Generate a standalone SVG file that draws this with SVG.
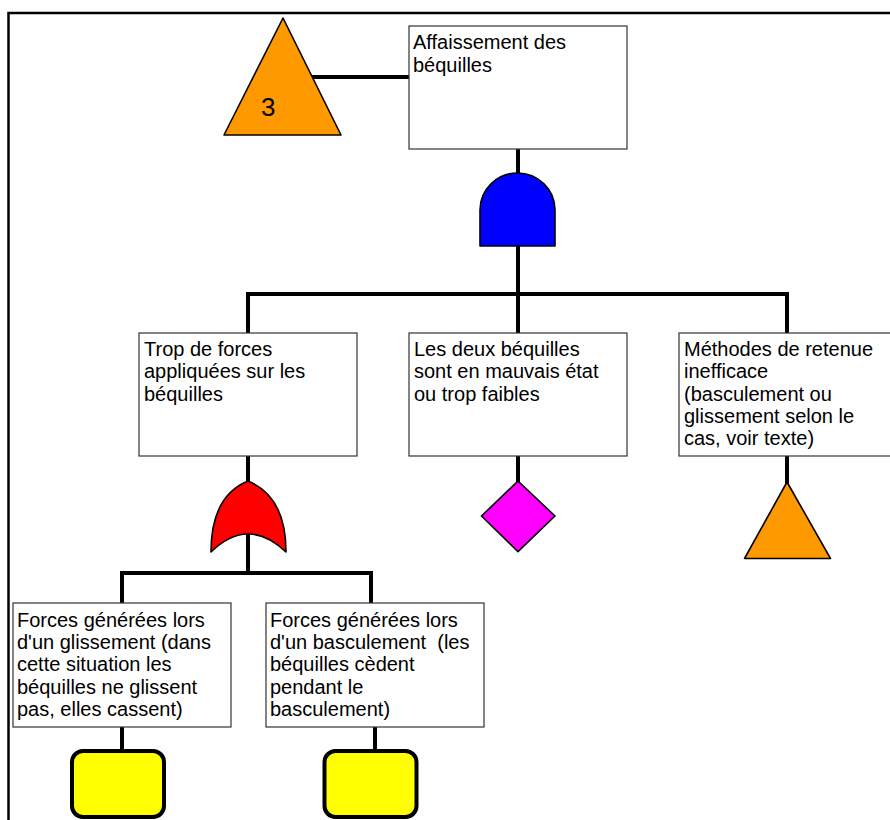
<svg xmlns="http://www.w3.org/2000/svg" width="890" height="820" viewBox="0 0 890 820">
  <style>
    .box { fill: #ffffff; stroke: #333333; stroke-width: 1.2; }
    .lbl { font-family: "Liberation Sans", Arial, sans-serif; font-size: 20px; fill: #000000; white-space: pre; }
    .wire { stroke: #000000; stroke-width: 4; fill: none; stroke-linecap: square; }
    .sym { stroke: #000000; stroke-width: 1.6; stroke-linejoin: round; }
    .house { fill: #ffff00; stroke: #000000; stroke-width: 4; }
  </style>

  <rect width="890" height="820" fill="#ffffff"/>
  <!-- page frame -->
  <rect x="8.5" y="13" width="900" height="830" fill="none" stroke="#000000" stroke-width="2.5"/>

  <!-- connectors -->
  <g id="connectors">
    <path class="wire" d="M310,77 H409"/>
    <path class="wire" d="M518,149 V173"/>
    <path class="wire" d="M518,246 V333"/>
    <path class="wire" d="M248,333 V294 H787 V333"/>
    <path class="wire" d="M248,456 V481"/>
    <path class="wire" d="M248,534 V573"/>
    <path class="wire" d="M122,603 V573 H371 V603"/>
    <path class="wire" d="M518,456 V481"/>
    <path class="wire" d="M787,456 V482"/>
    <path class="wire" d="M122,727 V749"/>
    <path class="wire" d="M375,727 V749"/>
  </g>

  <!-- transfer triangle -->
  <g id="transfer3">
    <polygon class="sym" points="283,18 341,135 224,135" fill="#ff9900"/>
    <text class="lbl" x="261" y="116" style="font-size:26px">3</text>
  </g>

  <!-- top event -->
  <g id="top">
    <rect class="box" x="409" y="26" width="218" height="123"/>
    <text class="lbl" x="413" y="49.3">Affaissement des</text>
    <text class="lbl" x="413" y="71.6">béquilles</text>
  </g>

  <!-- AND gate -->
  <g id="and-gate">
    <path class="sym" d="M480,246 V210 A37.5,37 0 0 1 555,210 V246 Z" fill="#0000ff"/>
  </g>

  <g id="forces">
    <rect class="box" x="139" y="333" width="218" height="123"/>
    <text class="lbl" x="144" y="356">Trop de forces</text>
    <text class="lbl" x="144" y="378.3">appliquées sur les</text>
    <text class="lbl" x="144" y="400.6">béquilles</text>
  </g>

  <g id="etat">
    <rect class="box" x="409" y="333" width="218" height="123"/>
    <text class="lbl" x="414" y="356">Les deux béquilles</text>
    <text class="lbl" x="414" y="378.3">sont en mauvais état</text>
    <text class="lbl" x="414" y="400.6">ou trop faibles</text>
  </g>

  <g id="retenue">
    <rect class="box" x="679" y="333" width="218" height="123"/>
    <text class="lbl" x="684" y="356">Méthodes de retenue</text>
    <text class="lbl" x="684" y="378.3">inefficace</text>
    <text class="lbl" x="684" y="400.6">(basculement ou</text>
    <text class="lbl" x="684" y="422.9">glissement selon le</text>
    <text class="lbl" x="684" y="445.2">cas, voir texte)</text>
  </g>

  <!-- OR gate -->
  <g id="or-gate">
    <path class="sym" d="M248,481 C270,490 286,510 286,552 Q248,516 211,552 C211,510 226,490 248,481 Z" fill="#ff0000"/>
  </g>

  <!-- undeveloped event -->
  <g id="diamond">
    <polygon class="sym" points="518,481 555,516 518,551.7 481.5,516" fill="#ff00ff"/>
  </g>

  <!-- undeveloped transfer -->
  <g id="triangle-retenue">
    <polygon class="sym" points="787,482 830.5,558.5 744.5,558.5" fill="#ff9900"/>
  </g>

  <g id="glissement">
    <rect class="box" x="13" y="603" width="218" height="124"/>
    <text class="lbl" x="17" y="626.7">Forces générées lors</text>
    <text class="lbl" x="17" y="649">d'un glissement (dans</text>
    <text class="lbl" x="17" y="671.3">cette situation les</text>
    <text class="lbl" x="17" y="693.6">béquilles ne glissent</text>
    <text class="lbl" x="17" y="715.9">pas, elles cassent)</text>
  </g>

  <g id="basculement">
    <rect class="box" x="266" y="603" width="218" height="124"/>
    <text class="lbl" x="270" y="626.7">Forces générées lors</text>
    <text class="lbl" x="270" y="649">d'un basculement  (les</text>
    <text class="lbl" x="270" y="671.3">béquilles cèdent</text>
    <text class="lbl" x="270" y="693.6">pendant le</text>
    <text class="lbl" x="270" y="715.9">basculement)</text>
  </g>

  <!-- house events -->
  <g id="house-glissement">
    <rect class="house" x="72" y="751" width="92" height="66" rx="11"/>
  </g>
  <g id="house-basculement">
    <rect class="house" x="324.5" y="751" width="92" height="66" rx="11"/>
  </g>
</svg>
